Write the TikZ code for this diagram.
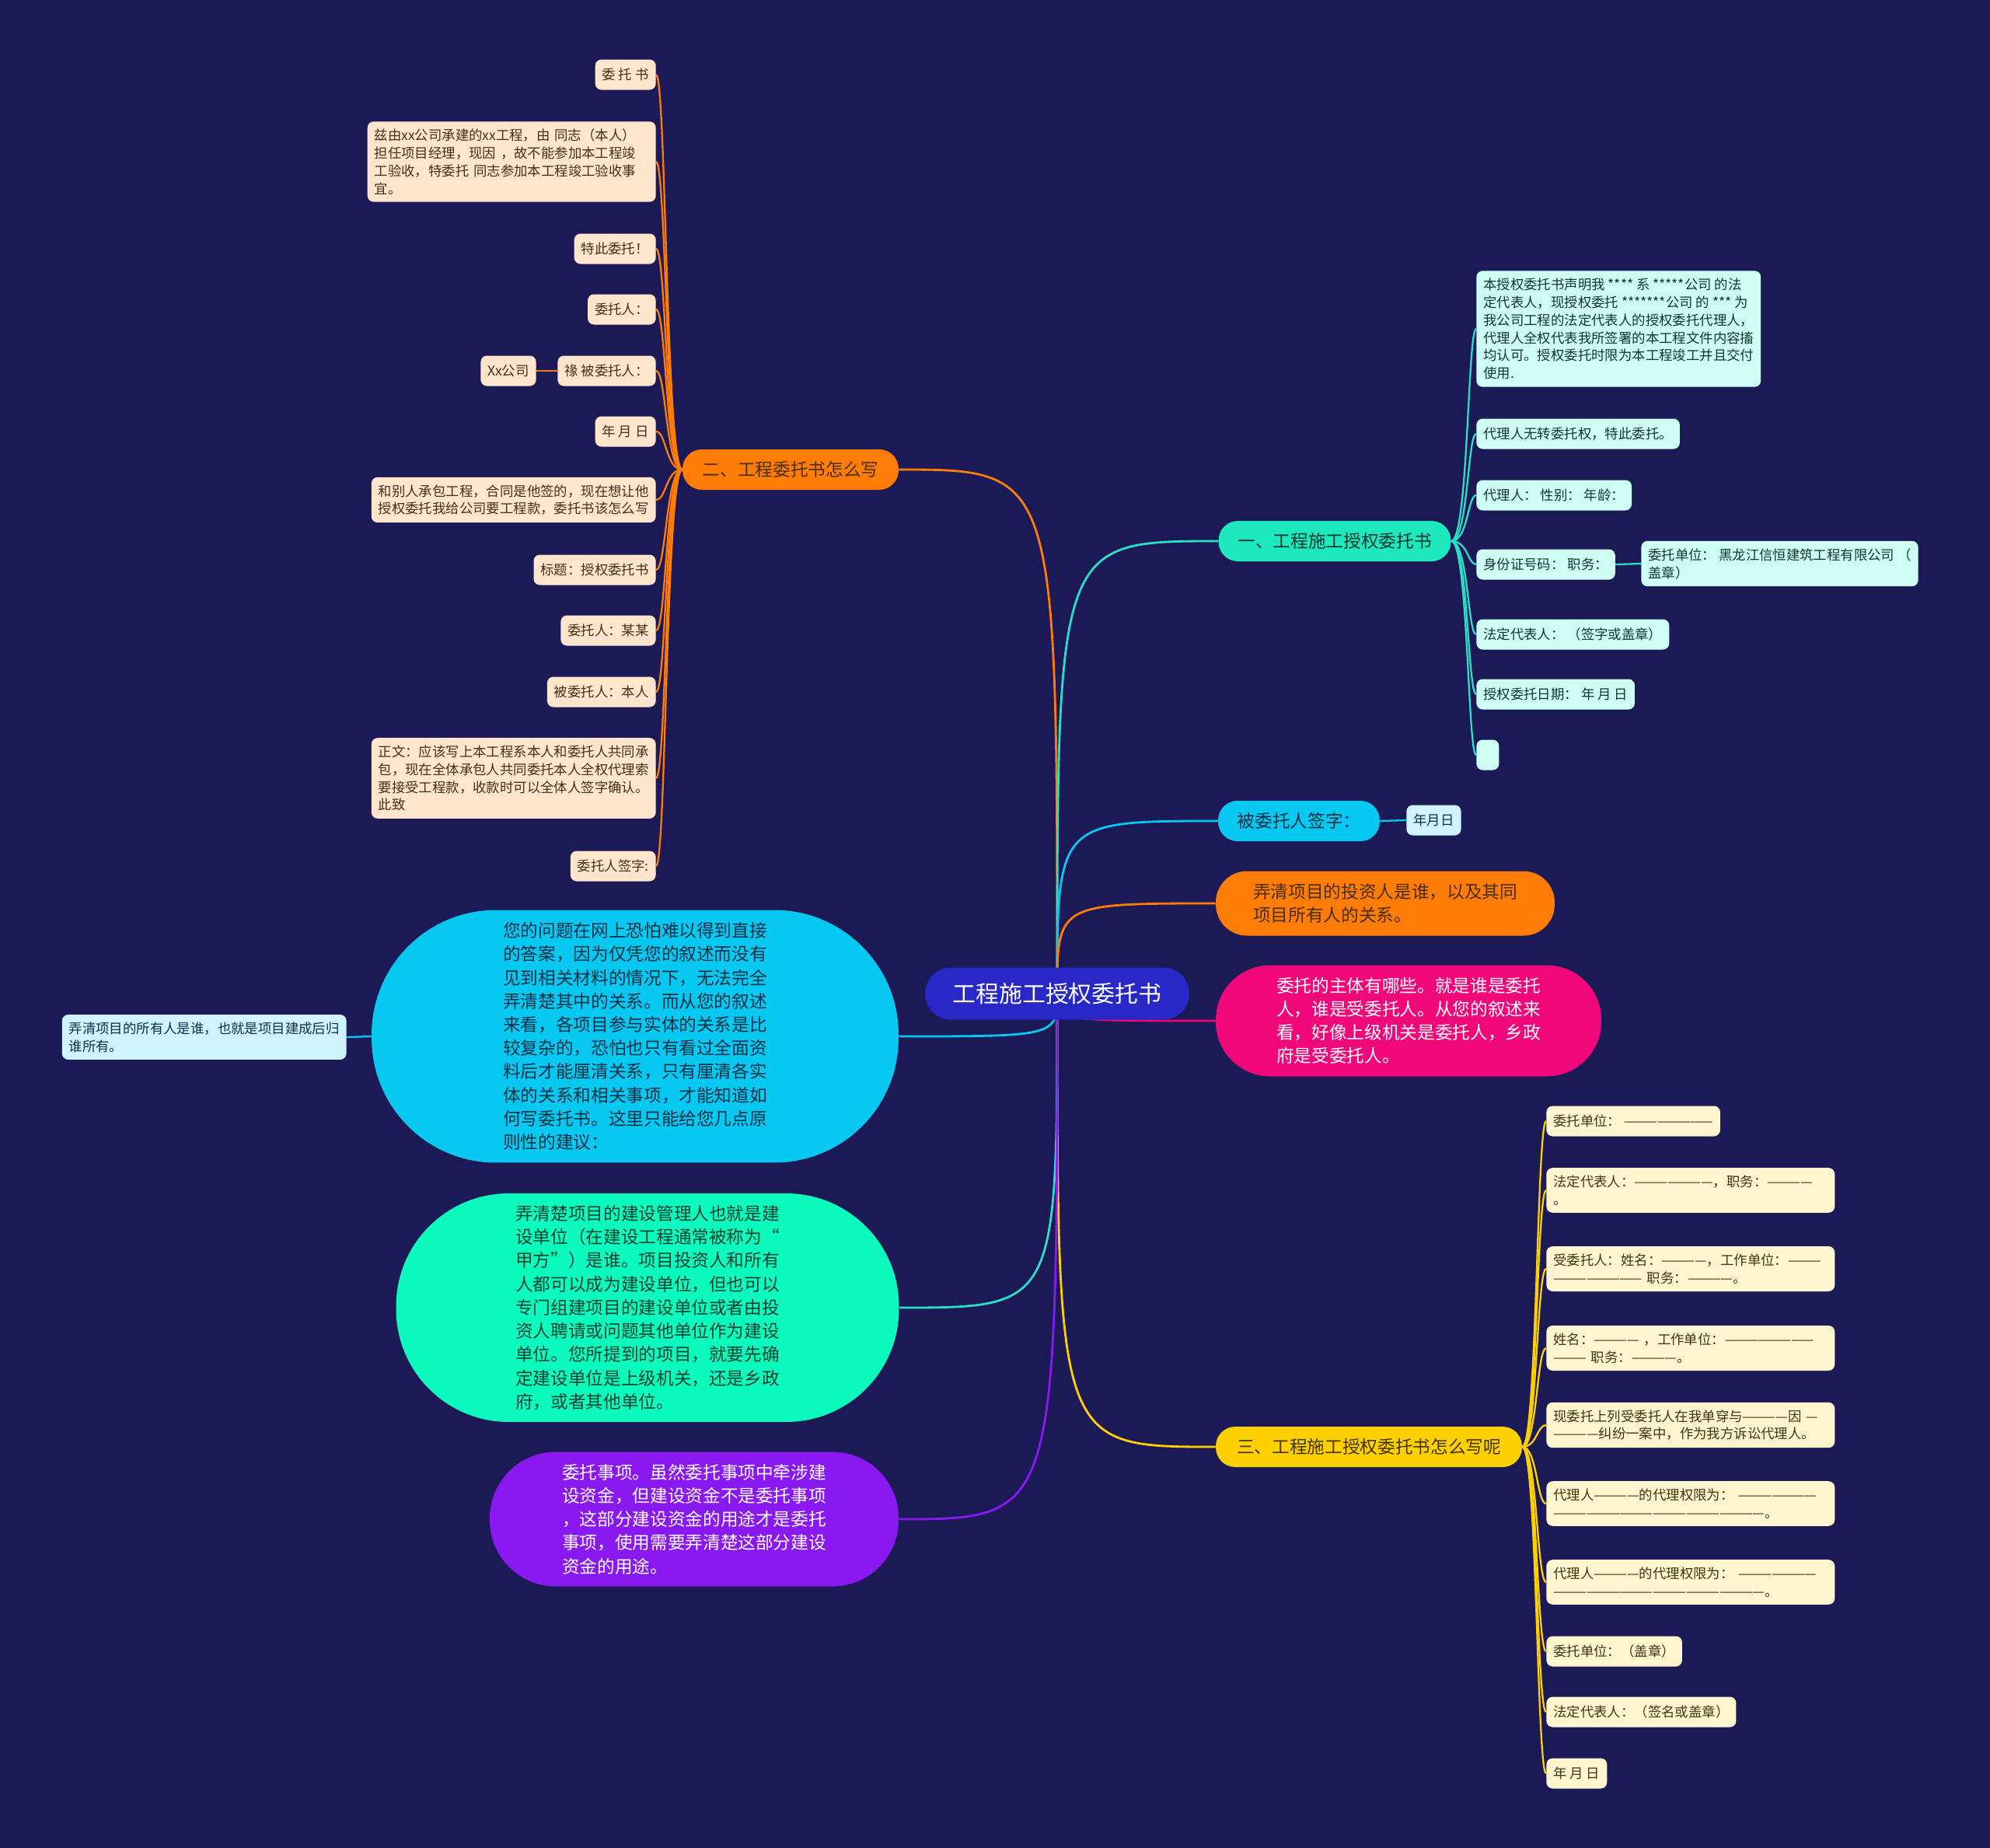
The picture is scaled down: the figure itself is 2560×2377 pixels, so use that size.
\documentclass[tikz,border=0pt]{standalone}
\usepackage{fontspec}
\setmainfont{Noto Sans CJK SC}
\pgfdeclarelayer{background}
\pgfdeclarelayer{edges}
\pgfsetlayers{background,edges,main}

\definecolor{bgnavy}{RGB}{27,26,86}
\definecolor{rootblue}{RGB}{40,40,198}
\definecolor{flame}{RGB}{255,124,6}
\definecolor{peach}{RGB}{255,229,204}
\definecolor{peachink}{RGB}{72,46,20}
\definecolor{mintbar}{RGB}{30,232,190}
\definecolor{mintline}{RGB}{44,222,200}
\definecolor{mintleaf}{RGB}{206,254,242}
\definecolor{mintink}{RGB}{16,56,48}
\definecolor{skybar}{RGB}{6,200,240}
\definecolor{skyleaf}{RGB}{208,244,255}
\definecolor{skyink}{RGB}{12,48,70}
\definecolor{sunbar}{RGB}{255,208,0}
\definecolor{sunleaf}{RGB}{255,246,208}
\definecolor{sunink}{RGB}{66,52,10}
\definecolor{rose}{RGB}{240,8,122}
\definecolor{violet}{RGB}{138,24,240}
\definecolor{jade}{RGB}{12,250,190}
\definecolor{jadeink}{RGB}{10,66,50}

\tikzset{
	leaf/.style={rounded corners=0.16cm, inner xsep=0.18cm, inner ysep=0.19cm, minimum height=0.78cm, align=left, font=\fontsize{9.9pt}{13pt}\selectfont},
	peachleaf/.style={leaf, fill=peach, text=peachink},
	mintnote/.style={leaf, fill=mintleaf, text=mintink},
	skynote/.style={leaf, fill=skyleaf, text=skyink},
	sunnote/.style={leaf, fill=sunleaf, text=sunink},
	wide/.style={text width=7.06cm},
	branch/.style={rounded corners=0.5cm, inner sep=0pt, minimum height=1.04cm, align=left, font=\fontsize{12.9pt}{17.2pt}\selectfont},
	bubble/.style={inner sep=0pt, align=left, font=\fontsize{12.9pt}{17.2pt}\selectfont},
	link/.style={line width=1.6pt},
	twig/.style={line width=1.3pt}
}

\begin{document}
\begin{tikzpicture}[x=0.02cm, y=-0.02cm, line cap=round]
	\useasboundingbox (0,0) rectangle (2560,2377);
	\begin{pgfonlayer}{background}
		\fill[bgnavy] (0,0) rectangle (2560,2377);
	\end{pgfonlayer}

	% title and main topics
	\node[fill=rootblue, text=white, rounded corners=0.66cm, minimum width=6.8cm, minimum height=1.34cm, font=\fontsize{17pt}{20pt}\selectfont] (root) at (1360,1278) {工程施工授权委托书};
	\node[branch, fill=flame, text=peachink, minimum width=5.56cm] (howto) at (1017,604) {二、工程委托书怎么写};
	\node[branch, fill=mintbar, text=mintink, minimum width=5.98cm] (auth) at (1717,696) {一、工程施工授权委托书};
	\node[branch, fill=skybar, text=skyink, minimum width=4.16cm] (signee) at (1671,1056) {被委托人签字：};
	\node[branch, fill=sunbar, text=sunink, minimum width=7.88cm] (template) at (1761,1861) {三、工程施工授权委托书怎么写呢};
	\node[bubble, fill=flame, text=peachink, rounded corners=0.8cm, minimum width=8.72cm, minimum height=1.66cm] (investor) at (1782,1162) {弄清项目的投资人是谁，以及其同\\项目所有人的关系。};
	\node[bubble, fill=rose, text=white, rounded corners=1.4cm, minimum width=9.92cm, minimum height=2.86cm] (subject) at (1812,1313) {委托的主体有哪些。就是谁是委托\\人，谁是受委托人。从您的叙述来\\看，好像上级机关是委托人，乡政\\府是受委托人。};
	\node[bubble, fill=skybar, text=skyink, rounded corners=3.2cm, minimum width=13.56cm, minimum height=6.5cm] (advice) at (817,1333) {您的问题在网上恐怕难以得到直接\\的答案，因为仅凭您的叙述而没有\\见到相关材料的情况下，无法完全\\弄清楚其中的关系。而从您的叙述\\来看，各项目参与实体的关系是比\\较复杂的，恐怕也只有看过全面资\\料后才能厘清关系，只有厘清各实\\体的关系和相关事项，才能知道如\\何写委托书。这里只能给您几点原\\则性的建议：};
	\node[bubble, fill=jade, text=jadeink, rounded corners=2.9cm, minimum width=12.94cm, minimum height=5.88cm] (manager) at (833,1682) {弄清楚项目的建设管理人也就是建\\设单位（在建设工程通常被称为“\\甲方”）是谁。项目投资人和所有\\人都可以成为建设单位，但也可以\\专门组建项目的建设单位或者由投\\资人聘请或问题其他单位作为建设\\单位。您所提到的项目，就要先确\\定建设单位是上级机关，还是乡政\\府，或者其他单位。};
	\node[bubble, fill=violet, text=white, rounded corners=1.7cm, minimum width=10.52cm, minimum height=3.46cm] (matter) at (893,1954) {委托事项。虽然委托事项中牵涉建\\设资金，但建设资金不是委托事项\\，这部分建设资金的用途才是委托\\事项，使用需要弄清楚这部分建设\\资金的用途。};

	% left leaves
	\node[peachleaf, anchor=east] (p1) at (844,96) {委 托 书};
	\node[peachleaf, wide, anchor=east] (p2) at (844,208) {兹由xx公司承建的xx工程，由~同志（本人）\\担任项目经理，现因~，故不能参加本工程竣\\工验收，特委托~同志参加本工程竣工验收事\\宜。};
	\node[peachleaf, anchor=east] (p3) at (844,320) {特此委托！};
	\node[peachleaf, anchor=east] (p4) at (844,398) {委托人：};
	\node[peachleaf, anchor=east] (p5) at (844,477) {禒 被委托人：};
	\node[peachleaf] (p5a) at (654,477) {Xx公司};
	\node[peachleaf, anchor=east] (p6) at (844,555) {年 月 日};
	\node[peachleaf, anchor=east] (p7) at (844,643) {和别人承包工程，合同是他签的，现在想让他\\授权委托我给公司要工程款，委托书该怎么写};
	\node[peachleaf, anchor=east] (p8) at (844,733) {标题：授权委托书};
	\node[peachleaf, anchor=east] (p9) at (844,811) {委托人：某某};
	\node[peachleaf, anchor=east] (p10) at (844,890) {被委托人：本人};
	\node[peachleaf, anchor=east] (p11) at (844,1001) {正文：应该写上本工程系本人和委托人共同承\\包，现在全体承包人共同委托本人全权代理索\\要接受工程款，收款时可以全体人签字确认。\\此致};
	\node[peachleaf, anchor=east] (p12) at (844,1114) {委托人签字:};
	\node[skynote, anchor=east] (a1) at (446,1334) {弄清项目的所有人是谁，也就是项目建成后归\\谁所有。};

	% right leaves
	\node[mintnote, anchor=west] (m1) at (1899,423) {本授权委托书声明我 **** 系 *****公司 的法\\定代表人，现授权委托 *******公司 的 *** 为\\我公司工程的法定代表人的授权委托代理人，\\代理人全权代表我所签署的本工程文件内容搐\\均认可。授权委托时限为本工程竣工并且交付\\使用.};
	\node[mintnote, anchor=west] (m2) at (1899,558) {代理人无转委托权，特此委托。};
	\node[mintnote, anchor=west] (m3) at (1899,637) {代理人： 性别： 年龄：};
	\node[mintnote, anchor=west] (m4) at (1899,726) {身份证号码： 职务：};
	\node[mintnote, anchor=west] (m4a) at (2111,725) {委托单位： 黑龙江信恒建筑工程有限公司 （\\盖章）};
	\node[mintnote, anchor=west] (m5) at (1899,816) {法定代表人： （签字或盖章）};
	\node[mintnote, anchor=west] (m6) at (1899,893) {授权委托日期： 年 月 日};
	\node[mintnote, anchor=west, minimum width=0.58cm] (m7) at (1899,971) {};
	\node[skynote, anchor=west] (s1) at (1809,1055) {年月日};
	\node[sunnote, anchor=west] (y1) at (1989,1442) {委托单位： ————————};
	\node[sunnote, wide, anchor=west] (y2) at (1989,1531) {法定代表人：———————，职务：————\\。};
	\node[sunnote, wide, anchor=west] (y3) at (1989,1632) {受委托人：姓名：————，工作单位：———\\————————~职务：————。};
	\node[sunnote, wide, anchor=west] (y4) at (1989,1734) {姓名：————~，工作单位：————————\\———~职务：————。};
	\node[sunnote, wide, anchor=west] (y5) at (1989,1833) {现委托上列受委托人在我单穿与————因~—\\————纠纷一案中，作为我方诉讼代理人。};
	\node[sunnote, wide, anchor=west] (y6) at (1989,1934) {代理人————的代理权限为：~———————\\———————————————————。};
	\node[sunnote, wide, anchor=west] (y7) at (1989,2035) {代理人————的代理权限为：~———————\\———————————————————。};
	\node[sunnote, anchor=west] (y8) at (1989,2124) {委托单位：（盖章）};
	\node[sunnote, anchor=west] (y9) at (1989,2202) {法定代表人：（签名或盖章）};
	\node[sunnote, anchor=west] (y10) at (1989,2281) {年 月 日};

	\begin{pgfonlayer}{edges}
		% from the title
		\draw[link, flame] (root.center) .. controls (root.center |- howto.east) .. (howto.east);
		\draw[link, mintline] (root.center) .. controls (root.center |- auth.west) .. (auth.west);
		\draw[link, skybar] (root.center) .. controls (root.center |- signee.west) .. (signee.west);
		\draw[link, flame] (root.center) .. controls (root.center |- investor.west) .. (investor.west);
		\draw[link, rose] (root.center) .. controls (root.center |- subject.west) .. (subject.west);
		\draw[link, sunbar] (root.center) .. controls (root.center |- template.west) .. (template.west);
		\draw[link, skybar] (root.center) .. controls (root.center |- advice.east) .. (advice.east);
		\draw[link, mintline] (root.center) .. controls (root.center |- manager.east) .. (manager.east);
		\draw[link, violet] (root.center) .. controls (root.center |- matter.east) .. (matter.east);
		% left bundle
		\draw[twig, flame] (howto.west) .. controls +(-21,0) and +(13,0) .. (p1.east);
		\draw[twig, flame] (howto.west) .. controls +(-21,0) and +(13,0) .. (p2.east);
		\draw[twig, flame] (howto.west) .. controls +(-21,0) and +(13,0) .. (p3.east);
		\draw[twig, flame] (howto.west) .. controls +(-21,0) and +(13,0) .. (p4.east);
		\draw[twig, flame] (howto.west) .. controls +(-21,0) and +(13,0) .. (p5.east);
		\draw[twig, flame] (howto.west) .. controls +(-21,0) and +(13,0) .. (p6.east);
		\draw[twig, flame] (howto.west) .. controls +(-21,0) and +(13,0) .. (p7.east);
		\draw[twig, flame] (howto.west) .. controls +(-21,0) and +(13,0) .. (p8.east);
		\draw[twig, flame] (howto.west) .. controls +(-21,0) and +(13,0) .. (p9.east);
		\draw[twig, flame] (howto.west) .. controls +(-21,0) and +(13,0) .. (p10.east);
		\draw[twig, flame] (howto.west) .. controls +(-21,0) and +(13,0) .. (p11.east);
		\draw[twig, flame] (howto.west) .. controls +(-21,0) and +(13,0) .. (p12.east);
		\draw[twig, flame] (p5.west) -- (p5a.east);
		\draw[twig, skybar] (advice.west) -- (a1.east);
		% right bundles
		\draw[twig, mintline] (auth.east) .. controls +(22,0) and +(-11,0) .. (m1.west);
		\draw[twig, mintline] (auth.east) .. controls +(22,0) and +(-11,0) .. (m2.west);
		\draw[twig, mintline] (auth.east) .. controls +(22,0) and +(-11,0) .. (m3.west);
		\draw[twig, mintline] (auth.east) .. controls +(22,0) and +(-11,0) .. (m4.west);
		\draw[twig, mintline] (auth.east) .. controls +(22,0) and +(-11,0) .. (m5.west);
		\draw[twig, mintline] (auth.east) .. controls +(22,0) and +(-11,0) .. (m6.west);
		\draw[twig, mintline] (auth.east) .. controls +(22,0) and +(-11,0) .. (m7.west);
		\draw[twig, mintline] (m4.east) -- (m4a.west);
		\draw[twig, skybar] (signee.east) -- (s1.west);
		\draw[twig, sunbar] (template.east) .. controls +(19,0) and +(-12,0) .. (y1.west);
		\draw[twig, sunbar] (template.east) .. controls +(19,0) and +(-12,0) .. (y2.west);
		\draw[twig, sunbar] (template.east) .. controls +(19,0) and +(-12,0) .. (y3.west);
		\draw[twig, sunbar] (template.east) .. controls +(19,0) and +(-12,0) .. (y4.west);
		\draw[twig, sunbar] (template.east) .. controls +(19,0) and +(-12,0) .. (y5.west);
		\draw[twig, sunbar] (template.east) .. controls +(19,0) and +(-12,0) .. (y6.west);
		\draw[twig, sunbar] (template.east) .. controls +(19,0) and +(-12,0) .. (y7.west);
		\draw[twig, sunbar] (template.east) .. controls +(19,0) and +(-12,0) .. (y8.west);
		\draw[twig, sunbar] (template.east) .. controls +(19,0) and +(-12,0) .. (y9.west);
		\draw[twig, sunbar] (template.east) .. controls +(19,0) and +(-12,0) .. (y10.west);
	\end{pgfonlayer}
\end{tikzpicture}
\end{document}
